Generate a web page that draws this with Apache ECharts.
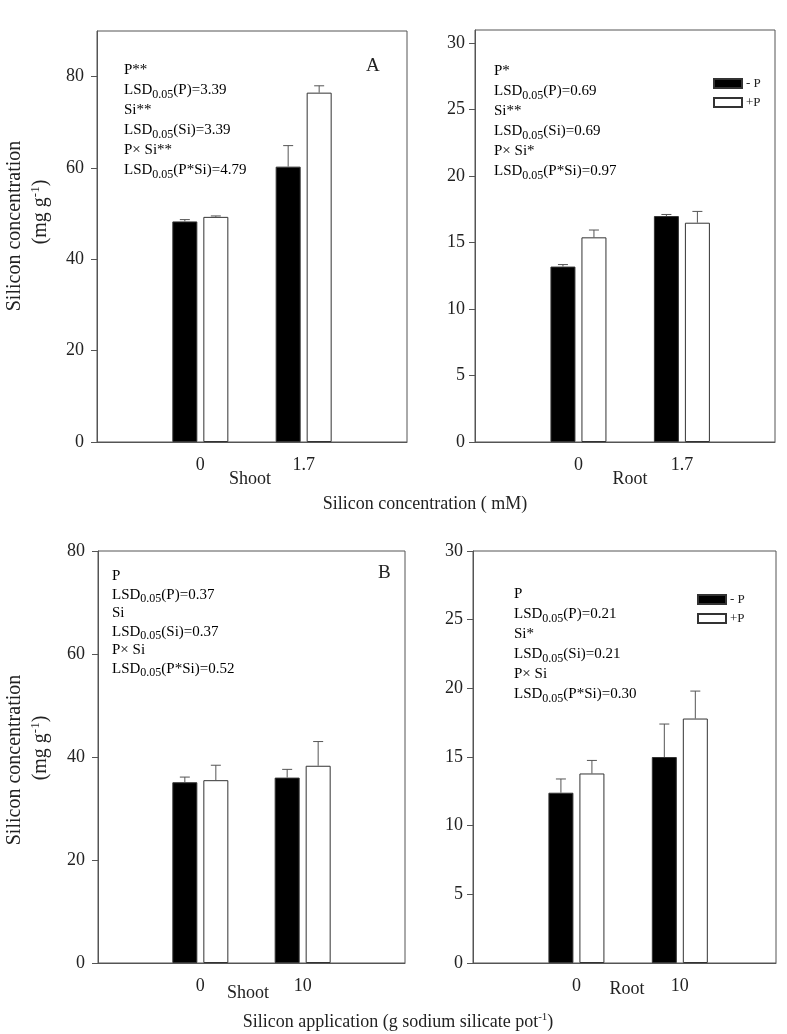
<!DOCTYPE html>
<html>
<head>
<meta charset="utf-8">
<script src="https://cdn.jsdelivr.net/npm/echarts@6/dist/echarts.min.js"></script>
<style>
html,body{margin:0;padding:0;background:#fff;}
#c{width:787px;height:1034px;}
</style>
</head>
<body>
<div id="c"></div>
<script>
// ---- data ----
const catsTop = ['0', '1.7'];
const catsBottom = ['0', '10'];
const seriesNames = ['- P', '+P'];

// Panel A shoot (mg g-1)
const shootA_minusP = [48.3, 60.3];
const shootA_minusP_err = [0.4, 4.6];
const shootA_plusP = [49.3, 76.5];
const shootA_plusP_err = [0.2, 1.5];
// Panel A root
const rootA_minusP = [13.2, 17.0];
const rootA_minusP_err = [0.15, 0.12];
const rootA_plusP = [15.4, 16.5];
const rootA_plusP_err = [0.55, 0.85];
// Panel B shoot
const shootB_minusP = [35.1, 36.0];
const shootB_minusP_err = [1.0, 1.6];
const shootB_plusP = [35.5, 38.3];
const shootB_plusP_err = [2.9, 4.7];
// Panel B root
const rootB_minusP = [12.4, 15.0];
const rootB_minusP_err = [1.0, 2.4];
const rootB_plusP = [13.8, 17.8];
const rootB_plusP_err = [0.95, 2.0];

const ticksShoot = [0, 20, 40, 60, 80];
const ticksRoot = [0, 5, 10, 15, 20, 25, 30];

const annTL = ['P**', ['LSD', '0.05', '(P)=3.39'], 'Si**', ['LSD', '0.05', '(Si)=3.39'], 'P× Si**', ['LSD', '0.05', '(P*Si)=4.79']];
const annTR = ['P*', ['LSD', '0.05', '(P)=0.69'], 'Si**', ['LSD', '0.05', '(Si)=0.69'], 'P× Si*', ['LSD', '0.05', '(P*Si)=0.97']];
const annBL = ['P', ['LSD', '0.05', '(P)=0.37'], 'Si', ['LSD', '0.05', '(Si)=0.37'], 'P× Si', ['LSD', '0.05', '(P*Si)=0.52']];
const annBR = ['P', ['LSD', '0.05', '(P)=0.21'], 'Si*', ['LSD', '0.05', '(Si)=0.21'], 'P× Si', ['LSD', '0.05', '(P*Si)=0.30']];

// ---- style ----
const FONT = '"Liberation Serif", "Times New Roman", serif';
const AX = '#555';
const BAR_W = 25;
const OFF = 15.5;

const grids = [
  {left: 97, top: 31, width: 310, height: 411},
  {left: 475, top: 30, width: 300, height: 412},
  {left: 98, top: 551, width: 307, height: 412},
  {left: 473, top: 551, width: 303, height: 412}
];
const xMax = [2, 1.9, 2, 1.93];
const yMax = [90, 31, 80, 30];
const yTicks = [ticksShoot, ticksRoot, ticksShoot, ticksRoot];
const xCats = [catsTop, catsTop, catsBottom, catsBottom];

const xAxes = grids.map((g, i) => ({
  type: 'value', gridIndex: i, min: -1, max: xMax[i],
  axisLine: {show: true, onZero: false, lineStyle: {color: AX, width: 1}},
  axisTick: {show: false},
  splitLine: {show: false},
  axisLabel: {
    customValues: [0, 1],
    formatter: v => xCats[i][Math.round(v)],
    fontFamily: FONT, fontSize: 18, color: '#222', margin: 14
  }
}));
const yAxes = grids.map((g, i) => ({
  type: 'value', gridIndex: i, min: 0, max: yMax[i],
  axisLine: {show: true, onZero: false, lineStyle: {color: AX, width: 1}},
  axisTick: {show: true, length: 6, customValues: yTicks[i], lineStyle: {color: AX}},
  splitLine: {show: false},
  axisLabel: {customValues: yTicks[i], fontFamily: FONT, fontSize: 18, color: '#222', margin: i % 2 === 0 ? 13 : 10}
}));

function pairs(arr, err) { return arr.map((v, k) => err ? [k, v, err[k]] : [k, v]); }

function errRender(offset) {
  return function (params, api) {
    const x = api.value(0), y = api.value(1), e = api.value(2);
    const p0 = api.coord([x, y]);
    const p1 = api.coord([x, y + e]);
    const cx = p0[0] + offset;
    const st = {stroke: '#555', lineWidth: 1};
    return {type: 'group', children: [
      {type: 'line', shape: {x1: cx, y1: p0[1], x2: cx, y2: p1[1]}, style: st},
      {type: 'line', shape: {x1: cx - 5, y1: p1[1], x2: cx + 5, y2: p1[1]}, style: st}
    ]};
  };
}

const panelData = [
  [shootA_minusP, shootA_minusP_err, shootA_plusP, shootA_plusP_err],
  [rootA_minusP, rootA_minusP_err, rootA_plusP, rootA_plusP_err],
  [shootB_minusP, shootB_minusP_err, shootB_plusP, shootB_plusP_err],
  [rootB_minusP, rootB_minusP_err, rootB_plusP, rootB_plusP_err]
];

const series = [];
panelData.forEach((d, i) => {
  series.push({
    name: seriesNames[0], type: 'bar', xAxisIndex: i, yAxisIndex: i,
    barWidth: BAR_W, barGap: '24%', data: pairs(d[0]),
    itemStyle: {color: '#000', borderColor: '#333', borderWidth: 1}, silent: true
  });
  series.push({
    name: seriesNames[1], type: 'bar', xAxisIndex: i, yAxisIndex: i,
    barWidth: BAR_W, barGap: '24%', data: pairs(d[2]),
    itemStyle: {color: '#fff', borderColor: '#333', borderWidth: 1}, silent: true
  });
  series.push({
    type: 'custom', xAxisIndex: i, yAxisIndex: i, z: 5, silent: true,
    renderItem: errRender(-OFF), data: pairs(d[0], d[1])
  });
  series.push({
    type: 'custom', xAxisIndex: i, yAxisIndex: i, z: 5, silent: true,
    renderItem: errRender(OFF), data: pairs(d[2], d[3])
  });
});

const rich = {
  n: {fontFamily: FONT, fontSize: 15, lineHeight: 20, color: '#222'},
  s: {fontFamily: FONT, fontSize: 12, lineHeight: 12, padding: [8, 0, 0, 0], color: '#222'}
};
function annText(lines) {
  return lines.map(l => Array.isArray(l) ? `{n|${l[0]}}{s|${l[1]}}{n|${l[2]}}` : `{n|${l}}`).join('\n');
}
function annGraphic(lines, x, y, lh) {
  const r = JSON.parse(JSON.stringify(rich));
  r.n.lineHeight = lh;
  return {type: 'text', left: x, top: y, z: 10, style: {text: annText(lines), rich: r}};
}
function unitTitle(x, y) {
  return {type: 'text', x: x, y: y, rotation: Math.PI / 2, style: {
    text: '{n|(mg g}{p|-1}{n|)}', align: 'center', verticalAlign: 'middle',
    rich: {n: {fontFamily: FONT, fontSize: 20, lineHeight: 22, fill: '#222'}, p: {fontFamily: FONT, fontSize: 13, lineHeight: 12, padding: [0, 0, 10, 0], fill: '#222'}}
  }};
}
function mainTitle(x, y) {
  return {type: 'text', x: x, y: y, rotation: Math.PI / 2, style: {text: 'Silicon concentration', fontFamily: FONT, fontSize: 20, fill: '#222', align: 'center', verticalAlign: 'middle'}};
}

const graphic = [
  annGraphic(annTL, 124, 63, 20),
  annGraphic(annTR, 494, 64, 20),
  annGraphic(annBL, 112, 569, 18.5),
  annGraphic(annBR, 514, 587, 20),
  {type: 'text', left: 366, top: 57, style: {text: 'A', fontFamily: FONT, fontSize: 19, fill: '#222'}},
  {type: 'text', left: 378, top: 564, style: {text: 'B', fontFamily: FONT, fontSize: 19, fill: '#222'}},
  {type: 'text', x: 250, y: 479, style: {text: 'Shoot', fontFamily: FONT, fontSize: 18, fill: '#222', align: 'center', verticalAlign: 'middle'}},
  {type: 'text', x: 630, y: 479, style: {text: 'Root', fontFamily: FONT, fontSize: 18, fill: '#222', align: 'center', verticalAlign: 'middle'}},
  {type: 'text', x: 248, y: 993, style: {text: 'Shoot', fontFamily: FONT, fontSize: 18, fill: '#222', align: 'center', verticalAlign: 'middle'}},
  {type: 'text', x: 627, y: 989, style: {text: 'Root', fontFamily: FONT, fontSize: 18, fill: '#222', align: 'center', verticalAlign: 'middle'}},
  {type: 'text', x: 425, y: 504, style: {text: 'Silicon concentration ( mM)', fontFamily: FONT, fontSize: 18, fill: '#222', align: 'center', verticalAlign: 'middle'}},
  {type: 'text', x: 398, y: 1022, style: {
    text: '{n|Silicon application (g sodium silicate pot}{p|-1}{n|)}', align: 'center', verticalAlign: 'middle',
    rich: {n: {fontFamily: FONT, fontSize: 18, lineHeight: 22, fill: '#222'}, p: {fontFamily: FONT, fontSize: 11, lineHeight: 12, padding: [0, 0, 10, 0], fill: '#222'}}
  }},
  mainTitle(15, 226),
  unitTitle(41, 212),
  mainTitle(15, 760),
  unitTitle(41, 748)
];

const legendCommon = {
  orient: 'vertical', itemWidth: 28, itemHeight: 9, itemGap: 6, icon: 'rect',
  data: seriesNames, selectedMode: false,
  textStyle: {fontFamily: FONT, fontSize: 13, color: '#222', padding: [0, 0, 0, -1]}
};

const option = {
  animation: false,
  backgroundColor: '#fff',
  grid: grids.map(g => Object.assign({show: true, borderColor: AX, borderWidth: 1, backgroundColor: 'transparent'}, g)),
  xAxis: xAxes,
  yAxis: yAxes,
  legend: [
    Object.assign({left: 708, top: 72}, legendCommon),
    Object.assign({left: 692, top: 588}, legendCommon)
  ],
  series: series,
  graphic: graphic
};

const chart = echarts.init(document.getElementById('c'), null, {renderer: 'canvas'});
chart.setOption(option);
</script>
</body>
</html>
